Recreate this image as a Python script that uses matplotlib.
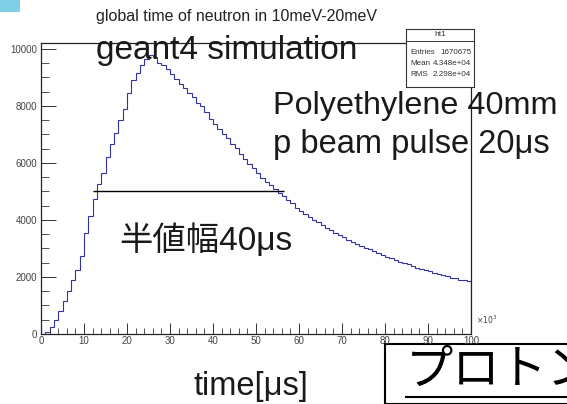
import matplotlib
matplotlib.use('Agg')
import matplotlib.pyplot as plt
import numpy as np
from matplotlib.patches import Rectangle
from matplotlib.ticker import MultipleLocator

# neutron arrival time histogram, 1 us bins from 0 to 100 us
bin_edges = np.arange(0, 101, 1)
counts = [0, 60, 250, 480, 800, 1150, 1500, 1900, 2250, 2750,
          3550, 4150, 4750, 5250, 5650, 6200, 6650, 7050, 7500, 7900,
          8450, 8900, 9150, 9450, 9650, 9800, 9710, 9520, 9440, 9300,
          9120, 8950, 8780, 8640, 8470, 8300, 8120, 7990, 7780, 7550,
          7380, 7210, 7030, 6880, 6680, 6520, 6330, 6140, 5960, 5820,
          5640, 5480, 5330, 5220, 5070, 4960, 4830, 4700, 4580, 4430,
          4330, 4220, 4120, 4000, 3920, 3820, 3720, 3640, 3550, 3470,
          3390, 3310, 3240, 3160, 3100, 3030, 2970, 2900, 2830, 2770,
          2710, 2660, 2600, 2540, 2490, 2440, 2380, 2330, 2290, 2240,
          2200, 2150, 2100, 2060, 2030, 1980, 1950, 1910, 1880, 1860]
xticks = [0, 10, 20, 30, 40, 50, 60, 70, 80, 90, 100]
yticks = [0, 2000, 4000, 6000, 8000, 10000]
half_max = 5000
fwhm_range = (12.1, 56.5)
stats_rows = [('Entries', '1670675'), ('Mean', '4.348e+04'), ('RMS', '2.298e+04')]

W, H = 567, 404
fig = plt.figure(figsize=(W / 100, H / 100), dpi=100)
fig.patch.set_facecolor('white')

def fx(px):
    return px / W

def fy(py):
    return 1 - py / H

root_font = 'Liberation Sans'
ax = fig.add_axes([fx(41), fy(334), (471 - 41) / W, (334 - 43) / H])
ax.stairs(counts, bin_edges, color='#3333a0', linewidth=0.8)
ax.set_xlim(0, 100)
ax.set_ylim(0, 10210)
ax.set_xticks(xticks)
ax.set_yticks(yticks)
ax.xaxis.set_minor_locator(MultipleLocator(2))
ax.yaxis.set_minor_locator(MultipleLocator(500))
ax.tick_params(which='both', direction='in', colors='#333333', labelsize=7,
               labelcolor='#444444')
ax.tick_params(axis='x', which='major', length=8, width=0.7, pad=1.5)
ax.tick_params(axis='x', which='minor', length=4, width=0.6)
ax.tick_params(axis='y', which='major', length=11, width=0.7, pad=3)
ax.tick_params(axis='y', which='minor', length=6, width=0.6)
for lab in ax.get_xticklabels() + ax.get_yticklabels():
    lab.set_fontfamily(root_font)
for s in ax.spines.values():
    s.set_linewidth(0.9)
    s.set_color('#222222')

# half-maximum line
ax.hlines(half_max, fwhm_range[0], fwhm_range[1], color='black', linewidth=1.0)

fig.text(fx(476), fy(324), r'$\times10^3$', fontsize=5.5, color='#444444')

# title
fig.text(fx(236), fy(17), 'global time of neutron in 10meV-20meV',
         fontsize=11.5, family=root_font, ha='center', va='center', color='#222222')

# stats box
sb = fig.add_axes([fx(406), fy(87), (474 - 406) / W, (87 - 29) / H])
sb.set_xticks([])
sb.set_yticks([])
sb.set_xlim(0, 1)
sb.set_ylim(0, 1)
sb.set_facecolor('white')
for s in sb.spines.values():
    s.set_linewidth(0.8)
    s.set_color('#333333')
sb.axhline(1 - 12 / 58, color='#333333', linewidth=0.7)
sb.text(0.5, 1 - 6 / 58, 'ht1', fontsize=6, family=root_font, ha='center',
        va='center', color='#333333')
for i, (k, v) in enumerate(stats_rows):
    yy = 1 - (23 + 11.5 * i) / 58
    sb.text(0.06, yy, k, fontsize=5.8, family=root_font, ha='left', va='center', color='#333333')
    sb.text(0.96, yy, v, fontsize=5.8, family=root_font, ha='right', va='center', color='#333333')

# slide annotations
big = dict(family=[root_font, 'Noto Sans CJK JP'], color='#1a1a1a')
fig.text(fx(96), fy(50), 'geant4 simulation', fontsize=24, va='center', **big)
fig.text(fx(273), fy(106), 'Polyethylene 40mm', fontsize=23.3, va='center', **big)
fig.text(fx(273), fy(145), 'p beam pulse 20μs', fontsize=23.5, va='center', **big)
fig.text(fx(119), fy(240), '半値幅40μs', fontsize=24, va='center', **big)
fig.text(fx(194), fy(386), 'time[μs]', fontsize=23.5, va='center', **big)

# boxed label at the lower right, kept beneath the tick labels
fig.patches.append(Rectangle((fx(385), 0), fx(W - 385 + 10), fy(344), transform=fig.transFigure,
                             facecolor='white', edgecolor='black', linewidth=1.5,
                             zorder=-1))
fig.text(fx(406), fy(371), 'プロトン', fontsize=34, va='center', zorder=6,
         family=['Noto Sans CJK JP'], color='black')
fig.add_artist(plt.Line2D([fx(406), fx(570)], [fy(397), fy(397)], transform=fig.transFigure,
                          color='black', linewidth=1.5, zorder=6))

# small coloured corner tab
fig.patches.append(Rectangle((0, fy(12)), fx(20), fy(0) - fy(12), transform=fig.transFigure,
                             facecolor='#7fd0e6', edgecolor='none', zorder=5))

fig.savefig('out.png', dpi=100)
